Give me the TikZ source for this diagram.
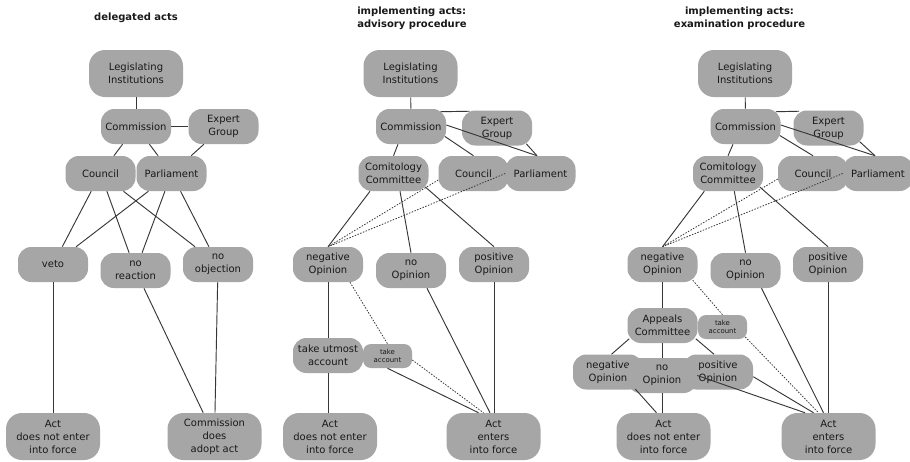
\documentclass[tikz,border=0pt]{standalone}
\usepackage{fontspec}
\setmainfont{DejaVu Sans}[BoldFont={DejaVu Sans Bold}]
\usetikzlibrary{calc}
\definecolor{nodefill}{RGB}{166,166,166}
\definecolor{txt}{RGB}{25,25,25}
\definecolor{edgec}{RGB}{55,55,55}
\tikzset{
  base/.style={rectangle, fill=nodefill, text=txt, inner sep=0pt, align=center,
    font=\fontsize{7.5pt}{9.8pt}\selectfont},
  box/.style={base, rounded corners=10pt, minimum width=52.5pt, minimum height=26.25pt},
  bigbox/.style={base, rounded corners=12pt, minimum width=70.5pt, minimum height=35.25pt},
  smallbox/.style={base, rounded corners=6pt, minimum width=36.75pt, minimum height=18pt,
    font=\fontsize{5.2pt}{6.5pt}\selectfont},
  ttl/.style={font=\bfseries\fontsize{7.5pt}{9.5pt}\selectfont, text=txt, inner sep=0pt},
  conn/.style={draw=edgec, line width=0.7pt},
  dotconn/.style={draw=edgec, line width=0.6pt, dash pattern=on 1.1pt off 1.1pt},
}
\begin{document}
\begin{tikzpicture}[x=0.75pt,y=-0.75pt]
\useasboundingbox[fill=white] (0,0) rectangle (910,461);

% ---------------- panel 1: delegated acts
\node[ttl] (t1) at (136,18) {delegated acts};
\node[bigbox] (leg1) at (136,73.5) {Legislating\\Institutions};
\node[box] (comm1) at (136,126.5) {Commission};
\node[box] (exp1) at (223.5,126.5) {Expert\\Group};
\node[box] (coun1) at (100.5,173.5) {Council};
\node[box] (parl1) at (171.5,173.5) {Parliament};
\node[box] (veto1) at (53,264.5) {veto};
\node[box] (noreac1) at (135.5,270.5) {no\\reaction};
\node[box] (noobj1) at (218,264.5) {no\\objection};
\node[bigbox] (actno1) at (53,436.5) {Act\\does not enter\\into force};
\node[bigbox] (cda1) at (214.5,436.5) {Commission\\does\\adopt act};

\draw[conn] (leg1) -- (comm1);
\draw[conn] (comm1) -- (exp1);
\draw[conn] (comm1) -- (coun1);
\draw[conn] (comm1) -- (parl1);
\draw[conn] (exp1) -- (parl1);
\draw[conn] (coun1) -- (veto1);
\draw[conn] (coun1) -- (noreac1);
\draw[conn] (coun1) -- (noobj1);
\draw[conn] (parl1) -- (veto1);
\draw[conn] (parl1) -- (noreac1);
\draw[conn] (parl1) -- (noobj1);
\draw[conn] (veto1) -- (actno1);
\draw[conn] (noreac1) -- (cda1);
\draw[conn] (noobj1) -- (cda1);

% ---------------- panel 2: advisory procedure
\node[ttl, anchor=west, align=left] (t2) at (357,18.5) {implementing acts:\\advisory procedure};
\node[bigbox] (leg2) at (410.5,73.5) {Legislating\\Institutions};
\node[box] (comm2) at (411,126.5) {Commission};
\node[box] (exp2) at (497,128) {Expert\\Group};
\node[box] (comi2) at (393.5,173.5) {Comitology\\Committee};
\node[box] (coun2) at (473.5,173.5) {Council};
\node[box] (parl2) at (540.5,173.5) {Parliament};
\node[box] (neg2) at (328,264.5) {negative\\Opinion};
\node[box] (noop2) at (411,270.5) {no\\Opinion};
\node[box] (pos2) at (494,264.5) {positive\\Opinion};
\node[box] (utm2) at (328,355.5) {take utmost\\account};
\node[smallbox] (tac2) at (387.5,356) {take\\account};
\node[bigbox] (actno2) at (330,436.5) {Act\\does not enter\\into force};
\node[bigbox] (acten2) at (493.5,436.5) {Act\\enters\\into force};

\draw[conn] (leg2) -- (comm2);
\draw[conn] ($(comm2.north east)+(-6,3)$) -- ($(exp2.north west)+(8,1)$);
\draw[conn] ($(comm2.east)+(0,-1.5)$) -- ($(parl2.north)+(-3.5,0)$);
\draw[conn] ($(exp2.south east)+(-6,-2)$) -- ($(parl2.north)+(-3.5,0)$);
\draw[conn] ($(comm2.east)+(-1.3,10)$) -- (coun2.north);
\draw[conn] ($(comm2.south)+(-13,0)$) -- (comi2.north);
\draw[conn] ($(comi2.south)+(-23.5,0)$) -- (neg2.north);
\draw[conn] ($(comi2.south)+(6.5,0)$) -- (noop2.north);
\draw[conn] ($(comi2.south east)+(-3.5,-4.3)$) -- (pos2.north);
\draw[dotconn] ($(coun2.west)+(0,6.5)$) -- (neg2.north);
\draw[dotconn] (parl2.west) -- (neg2.north);
\draw[conn] (neg2) -- (utm2);
\draw[dotconn] ($(neg2.south)+(22,0)$) -- (tac2.north);
\draw[conn] (utm2.south) -- (utm2.south |- actno2.north);
\draw[conn] (tac2.south) -- ($(acten2.north)+(-15,0)$);
\draw[dotconn] ($(tac2.east)+(0,4)$) -- ($(acten2.north)+(-10,0)$);
\draw[conn] ($(noop2.south)+(16,0)$) -- ($(acten2.north)+(-3.5,0)$);
\draw[conn] (pos2.south) -- (pos2.south |- acten2.north);

% ---------------- panel 3: examination procedure
\node[ttl, align=center] (t3) at (739.5,18.5) {implementing acts:\\examination procedure};
\node[bigbox] (leg3) at (745,73.5) {Legislating\\Institutions};
\node[box] (comm3) at (745.5,126.5) {Commission};
\node[box] (exp3) at (828.5,128) {Expert\\Group};
\node[box] (comi3) at (728,173.5) {Comitology\\Committee};
\node[box] (coun3) at (813,173.5) {Council};
\node[box] (parl3) at (878,173.5) {Parliament};
\node[box] (neg3) at (662.5,264.5) {negative\\Opinion};
\node[box] (noop3) at (745.5,270.5) {no\\Opinion};
\node[box] (pos3) at (828,264.5) {positive\\Opinion};
\node[box] (app3) at (662.5,325.5) {Appeals\\Committee};
\node[smallbox] (tac3) at (722.5,327) {take\\account};
\node[box] (negl3) at (608,372) {negative\\Opinion};
\node[box] (nol3) at (662,375.5) {no\\Opinion};
\node[box] (posl3) at (718,372) {positive\\Opinion};
\node[bigbox] (actno3) at (663.5,436.5) {Act\\does not enter\\into force};
\node[bigbox] (acten3) at (828.5,436.5) {Act\\enters\\into force};

\draw[conn] (leg3) -- (comm3);
\draw[conn] ($(comm3.north east)+(-5,3)$) -- ($(exp3.north west)+(6,1)$);
\draw[conn] ($(comm3.east)+(0,-1.5)$) -- ($(parl3.north)+(-3,0)$);
\draw[conn] ($(exp3.south east)+(-4,-4)$) -- ($(parl3.north)+(-3,0)$);
\draw[conn] ($(comm3.east)+(-1,9)$) -- (coun3.north);
\draw[conn] ($(comm3.south)+(-12.5,0)$) -- (comi3.north);
\draw[dotconn] ($(coun3.west)+(0,5.5)$) -- (neg3.north);
\draw[dotconn] (parl3.west) -- (neg3.north);
\draw[conn] ($(comi3.south)+(-23.7,0)$) -- (neg3.north);
\draw[conn] ($(comi3.south)+(6.3,0)$) -- (noop3.north);
\draw[conn] ($(comi3.south east)+(-3.5,-4.3)$) -- (pos3.north);
\draw[conn] (neg3) -- (app3);
\draw[dotconn] ($(neg3.south east)+(-5,-2)$) -- (tac3.north);
\draw[dotconn] ($(tac3.south east)+(-2,-2.3)$) -- ($(acten3.north)+(-10,0)$);
\draw[conn] ($(noop3.south)+(16,0)$) -- ($(acten3.north)+(-5,0)$);
\draw[conn] (pos3.south) -- (pos3.south |- acten3.north);
\draw[conn] ($(app3.south west)+(2,-4.5)$) -- ($(negl3.north)+(3.5,0)$);
\draw[conn] (app3.south) -- (app3.south |- nol3.north);
\draw[conn] ($(app3.south east)+(-2,-4.5)$) -- ($(posl3.north)+(-4,0)$);
\draw[conn] ($(negl3.south east)+(-8,-0.7)$) -- ($(actno3.north)+(-7,0)$);
\draw[conn] (nol3.south) -- (nol3.south |- actno3.north);
\draw[conn] ($(posl3.east)+(0,4.7)$) -- ($(acten3.north)+(-15,0)$);
\draw[conn] (nol3.east) -- ($(acten3.north)+(-23.5,0)$);
\end{tikzpicture}
\end{document}
